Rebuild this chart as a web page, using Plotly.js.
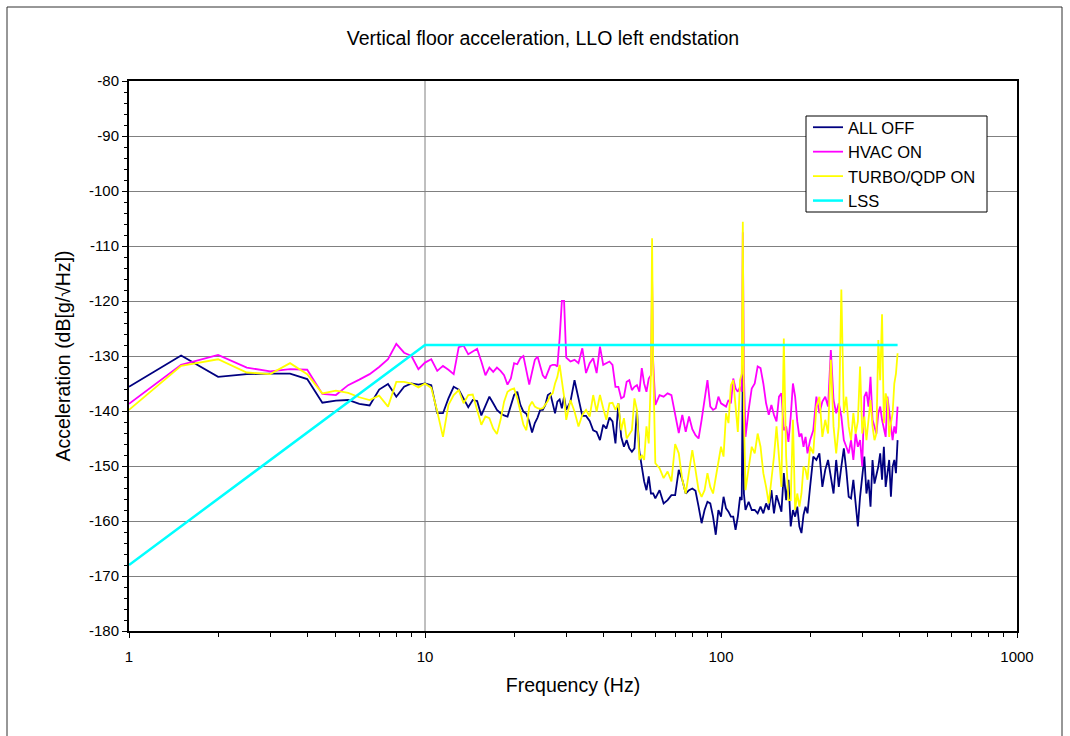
<!DOCTYPE html>
<html>
<head>
<meta charset="utf-8">
<script src="https://cdn.plot.ly/plotly-3.0.1.min.js"></script>
<style>
  html, body { margin: 0; padding: 0; background: #fff; }
  #chart { width: 1070px; height: 736px; }
</style>
</head>
<body>
<div id="chart"></div>
<script>
// Frequency grid (Hz), shared by the three measured spectra
const freqHz = [
  1, 1.5, 2, 2.5, 3, 3.5, 4, 4.5, 5, 5.5, 6, 6.5, 7, 7.5, 8, 8.5, 9, 9.5, 10,
  10.5, 11, 11.5, 12, 12.5, 13, 13.5, 14, 14.5, 15, 15.5, 16, 16.5, 17, 17.5, 18, 18.5, 19, 19.5, 20,
  20.5, 21, 21.5, 22, 22.5, 23, 23.5, 24, 24.5, 25, 25.5, 26, 26.5, 27, 27.5, 28, 28.5, 29, 29.5, 30,
  31, 32, 33, 34, 35, 36, 37, 38, 39, 40, 41, 42, 43, 44, 45, 46, 47, 48, 49, 50,
  51, 52, 53, 54, 55, 56, 57, 58, 58.5, 59, 60, 62, 64, 66, 68, 70,
  72, 74, 76, 78, 80, 82, 84, 86, 88, 90, 92, 94, 96, 98, 100,
  102, 104, 106, 108, 110, 112, 114, 116, 117.5, 118.5, 119.5, 121, 124, 127, 130,
  133, 136, 139, 142, 145, 148, 151, 154, 157, 160, 163, 166, 169,
  172, 175, 178, 181, 184, 187, 190, 193, 196, 200,
  205, 210, 215, 220, 225, 230, 235, 240, 245, 250, 255, 260, 265, 270, 275, 280, 285, 290, 295, 300,
  305, 310, 315, 320, 325, 330, 335, 340, 345, 350, 355, 360, 365, 370, 375, 380, 385, 390, 395
];

// ALL OFF, dB[g/sqrt(Hz)]
const allOff = [
  -135.6, -129.9, -133.8, -133.3, -133.2, -133.2, -134.2, -138.5, -138.1, -138.0, -138.7, -139.0, -136.1, -135.1, -137.4, -135.6, -135.0, -135.2, -135.0,
  -135.3, -140.4, -140.4, -137.7, -135.6, -136.1, -137.7, -139.3, -138.0, -138.2, -140.8, -138.9, -137.4, -138.6, -139.8, -140.4, -140.8, -141.0, -138.9, -137.1,
  -136.5, -138.9, -140.1, -140.5, -141.9, -143.9, -142.2, -141.2, -139.8, -139.8, -138.9, -137.1, -136.8, -138.9, -140.4, -138.3, -137.9, -139.5, -137.4, -139.8,
  -138.3, -134.4, -137.7, -140.9, -140.9, -141.8, -143.5, -143.8, -145.3, -142.5, -143.2, -141.2, -141.9, -145.9, -138.6, -144.7, -146.5, -145.3, -146.8, -147.4,
  -146.8, -139.8, -147.4, -150.1, -152.8, -154.4, -151.9, -155.0, -155.0, -155.0, -155.9, -154.4, -156.8, -156.2, -155.3, -155.3,
  -150.7, -152.5, -155.0, -154.4, -154.1, -154.5, -157.4, -160.4, -158.0, -156.5, -156.8, -159.2, -162.5, -158.0, -159.2,
  -155.6, -157.7, -158.3, -159.2, -159.2, -161.6, -159.2, -155.6, -156.2, -131.0, -155.0, -158.0, -156.5, -158.0, -158.0,
  -158.6, -157.4, -158.6, -156.8, -158.0, -154.4, -158.6, -155.3, -156.8, -158.3, -151.3, -156.2, -152.5,
  -161.0, -158.0, -159.2, -157.4, -161.0, -162.2, -158.9, -157.4, -158.6, -153.8,
  -148.3, -148.9, -147.7, -153.8, -150.7, -148.9, -151.9, -155.0, -148.9, -153.8, -150.1, -146.8, -150.7, -155.6, -155.9, -152.5, -156.8, -161.0, -155.6, -151.3,
  -148.3, -155.0, -152.5, -157.4, -148.9, -153.2, -151.9, -150.1, -147.7, -152.5, -146.5, -153.8, -151.3, -148.9, -155.6, -150.1, -148.9, -151.3, -145.3
];

// HVAC ON
const hvacOn = [
  -138.7, -131.6, -129.8, -132.1, -132.8, -132.4, -132.5, -136.9, -137.1, -135.3, -134.3, -133.3, -132.0, -130.6, -127.8, -129.4, -130.0, -132.4, -131.2,
  -130.6, -132.7, -131.8, -132.5, -133.3, -128.4, -128.1, -129.7, -129.2, -128.7, -131.0, -133.5, -132.1, -132.9, -132.1, -132.7, -133.5, -135.2, -134.1, -131.3,
  -131.5, -130.4, -130.0, -132.9, -135.2, -132.9, -130.7, -130.1, -131.9, -133.5, -134.1, -132.9, -131.8, -131.6, -131.6, -131.9, -126.8, -120.0, -120.0, -130.3,
  -131.0, -130.7, -131.3, -128.6, -133.1, -131.3, -130.4, -133.1, -128.3, -131.6, -131.3, -131.0, -131.6, -135.6, -135.6, -137.7, -137.4, -134.7, -134.4, -136.2,
  -135.6, -135.3, -136.5, -132.2, -135.0, -136.5, -134.1, -133.5, -115.9, -131.0, -138.9, -137.1, -137.4, -136.8, -137.1, -140.5,
  -144.0, -140.7, -143.8, -141.0, -143.3, -144.4, -145.0, -141.6, -138.3, -134.4, -139.2, -139.8, -139.5, -137.4, -138.6,
  -138.9, -139.2, -138.0, -138.6, -134.1, -135.9, -136.5, -135.6, -136.5, -107.5, -133.2, -144.7, -139.8, -135.9, -135.0,
  -131.9, -132.2, -135.0, -138.6, -140.7, -138.9, -140.7, -141.9, -137.4, -136.8, -143.5, -142.8, -145.6,
  -141.0, -135.0, -137.4, -141.9, -144.7, -144.1, -146.5, -144.7, -147.7, -145.3,
  -143.5, -137.4, -140.4, -138.3, -137.4, -139.2, -128.9, -138.0, -140.4, -138.6, -141.0, -145.3, -146.5, -147.7, -145.3, -148.9, -144.1, -146.5, -145.3, -150.1,
  -137.4, -136.5, -139.2, -133.8, -141.6, -142.8, -144.1, -140.4, -139.2, -141.6, -143.5, -144.7, -137.4, -139.8, -142.8, -145.3, -142.8, -144.1, -139.2
];

// TURBO/QDP ON
const turboOn = [
  -139.8, -131.8, -130.6, -133.0, -133.3, -131.3, -133.3, -136.8, -136.3, -136.7, -137.5, -138.0, -137.2, -139.2, -134.7, -134.7, -135.0, -135.7, -135.0,
  -135.8, -140.1, -144.7, -138.9, -137.1, -136.2, -138.6, -137.1, -137.0, -139.8, -142.5, -141.0, -141.3, -143.2, -144.2, -141.6, -138.3, -136.5, -136.1, -135.9,
  -137.7, -140.1, -142.5, -143.5, -139.2, -138.3, -139.2, -139.5, -139.6, -139.5, -138.9, -138.2, -137.1, -136.8, -135.0, -133.8, -131.6, -134.4, -137.4, -141.6,
  -138.0, -140.1, -142.8, -140.7, -139.8, -141.0, -137.1, -140.1, -137.1, -139.5, -141.6, -138.6, -138.5, -139.8, -138.6, -143.5, -141.3, -145.0, -144.1, -143.5,
  -137.7, -139.8, -148.9, -148.0, -148.9, -142.8, -145.9, -133.1, -108.6, -131.3, -149.5, -150.4, -152.2, -151.0, -152.8, -146.0,
  -147.7, -152.5, -155.0, -151.3, -147.1, -150.7, -154.4, -155.6, -154.4, -151.3, -153.8, -155.0, -152.2, -148.9, -146.5,
  -148.3, -140.4, -142.2, -135.3, -134.4, -139.8, -143.8, -134.4, -133.2, -105.6, -140.4, -154.4, -150.1, -146.5, -147.7,
  -144.1, -146.5, -151.3, -153.8, -156.8, -152.5, -148.3, -142.8, -147.7, -153.8, -126.8, -148.3, -156.2,
  -156.2, -141.6, -158.0, -155.0, -157.4, -155.0, -150.1, -150.7, -152.5, -146.5,
  -147.7, -139.2, -137.4, -144.7, -141.6, -144.1, -130.7, -142.8, -147.7, -142.8, -117.9, -140.4, -137.4, -142.8, -145.3, -140.4, -144.1, -141.9, -131.9, -144.1,
  -141.0, -145.3, -141.6, -138.0, -142.8, -145.3, -144.1, -127.1, -134.4, -122.4, -142.2, -136.8, -138.0, -144.7, -142.2, -140.4, -135.0, -133.2, -129.5
];

// LSS requirement curve
const lssFreq = [1, 10, 395];
const lssLevel = [-168, -128, -128];

const seriesNames = ['ALL OFF', 'HVAC ON', 'TURBO/QDP ON', 'LSS'];
const seriesColors = ['#000080', '#FF00FF', '#FFFF00', '#00FFFF'];

// Axis tick values and labels (plain hyphen minus on the dB labels)
const xMajor = [1, 10, 100, 1000];
const xMinor = [];
[1, 10, 100].forEach(function (d) {
  for (let k = 2; k <= 9; k++) xMinor.push(k * d);
});
const yMajor = [];
for (let v = -180; v <= -80; v += 10) yMajor.push(v);
const yLabels = yMajor.map(function (v) { return String(v).replace('\u2212', '-'); });

const FONT = 'Liberation Sans, Arial, Helvetica, sans-serif';

function spectrum(y, i) {
  return {
    x: freqHz, y: y, type: 'scatter', mode: 'lines',
    name: seriesNames[i],
    line: { color: seriesColors[i], width: 1.8 }
  };
}

const traces = [
  spectrum(allOff, 0),
  spectrum(hvacOn, 1),
  spectrum(turboOn, 2),
  {
    x: lssFreq, y: lssLevel, type: 'scatter', mode: 'lines',
    name: seriesNames[3],
    line: { color: seriesColors[3], width: 2.5 }
  }
];

// pixel helpers for paper-referenced decorations (plot area 129..1017 x 81..631)
const px = function (x) { return (x - 129) / 888; };
const py = function (y) { return 1 - (y - 81) / 550; };

const layout = {
  width: 1070, height: 736,
  margin: { l: 129, r: 53, t: 81, b: 105 },
  paper_bgcolor: '#ffffff', plot_bgcolor: '#ffffff',
  font: { family: FONT, color: '#000000', size: 15 },
  title: {
    text: 'Vertical floor acceleration, LLO left endstation',
    font: { family: FONT, size: 19.5, color: '#000' },
    x: 543 / 1070, xref: 'container', xanchor: 'center',
    y: 1 - 38 / 736, yref: 'container', yanchor: 'middle'
  },
  xaxis: {
    type: 'log', range: [0, 3],
    tickmode: 'array', tickvals: xMajor, ticktext: xMajor.map(String),
    ticks: 'outside', ticklen: 5, tickwidth: 1, tickcolor: '#000',
    ticklabelstandoff: 6,
    showgrid: false,
    showline: true, linecolor: '#000', linewidth: 2, mirror: true,
    zeroline: false,
    tickfont: { family: FONT, size: 15, color: '#000' },
    minor: { tickmode: 'array', tickvals: xMinor, ticks: 'outside', ticklen: 4, tickcolor: '#000', tickwidth: 1, showgrid: false },
    title: { text: 'Frequency (Hz)', font: { family: FONT, size: 19.5, color: '#000' }, standoff: 14 }
  },
  yaxis: {
    range: [-180, -80],
    tickmode: 'array', tickvals: yMajor, ticktext: yLabels,
    ticks: 'outside', ticklen: 5, tickwidth: 1, tickcolor: '#000',
    showgrid: true, gridcolor: '#808080', gridwidth: 1,
    showline: true, linecolor: '#000', linewidth: 2, mirror: true,
    zeroline: false,
    tickfont: { family: FONT, size: 15, color: '#000' },
    minor: { tickmode: 'linear', tick0: -180, dtick: 2, ticks: 'outside', ticklen: 3, tickcolor: '#000', tickwidth: 1, showgrid: false },
    title: { text: 'Acceleration (dB[g/\u221AHz])', font: { family: FONT, size: 19.5, color: '#000' }, standoff: 13 }
  },
  showlegend: true,
  legend: {
    x: px(808), y: py(110),
    xanchor: 'left', yanchor: 'top',
    bgcolor: 'rgba(0,0,0,0)', borderwidth: 0,
    font: { family: FONT, size: 16.5, color: '#000' },
    traceorder: 'normal'
  },
  shapes: [
    // chart-area frame
    {
      type: 'rect', xref: 'paper', yref: 'paper',
      x0: px(7), x1: px(1062), y0: py(760), y1: py(7),
      line: { color: '#303030', width: 1 }, fillcolor: 'rgba(0,0,0,0)', layer: 'below'
    },
    // decade line at 10 Hz
    {
      type: 'line', xref: 'paper', yref: 'paper',
      x0: px(425), x1: px(425), y0: 0, y1: 1,
      line: { color: '#808080', width: 1 }, layer: 'below'
    },
    // legend box
    {
      type: 'rect', xref: 'paper', yref: 'paper',
      x0: px(806), x1: px(987), y0: py(212), y1: py(116),
      line: { color: '#000', width: 1 }, fillcolor: '#ffffff', layer: 'above'
    }
  ]
};

Plotly.newPlot('chart', traces, layout, { displayModeBar: false, staticPlot: true });
</script>
</body>
</html>
